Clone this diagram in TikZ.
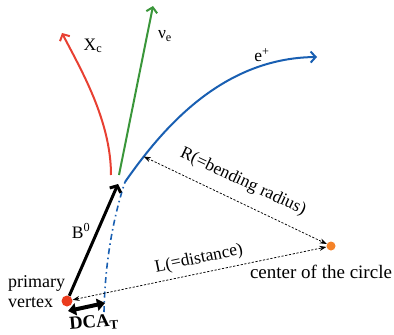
\documentclass[tikz,border=0pt]{standalone}
\usepackage{fontspec}
\setmainfont{Liberation Serif}
\usetikzlibrary{arrows.meta}
\definecolor{xred}{RGB}{232,64,50}
\definecolor{xgreen}{RGB}{58,150,58}
\definecolor{xblue}{RGB}{25,95,178}
\definecolor{xorange}{RGB}{245,130,40}
\definecolor{vred}{RGB}{235,60,30}
\begin{document}
\begin{tikzpicture}[x=1pt,y=-1pt,
  lbl/.style={inner sep=0pt, font=\fontsize{17.5}{20}\selectfont},
  biglbl/.style={inner sep=0pt, font=\fontsize{19}{21}\selectfont},
  track/.style={line width=2pt, -{Straight Barb[length=5pt,width=11pt]}},
  dimline/.style={line width=0.75pt, dash pattern=on 2.2pt off 1.6pt, {Stealth[length=7pt,width=5pt]}-{Stealth[length=7pt,width=5pt]}},
  dot/.style={circle, inner sep=0pt, minimum size=#1}]
\useasboundingbox (0,0) rectangle (394,335);
% points
\node[dot=11pt, fill=vred] (pv) at (67,301) {};
\node[dot=9pt, fill=xorange] (cc) at (331,246) {};
\coordinate (bend) at (125,182);
\coordinate (btip) at (118,184);
\coordinate (dcaL) at (68,311);
\coordinate (dcaR) at (105,303);
% tracks
\draw[track, xred] (111,175) .. controls (111,120) and (80,68) .. (62,33);
\draw[track, xgreen] (119,175) -- (153,6);
\draw[line width=1.6pt, xblue, dash pattern=on 6pt off 3.5pt on 1.5pt off 3.5pt] (104,312) .. controls (105,260) and (114,215) .. (bend);
\draw[track, xblue] (bend) .. controls (160,132) and (220,58) .. coordinate[pos=0.16] (rfoot) (317,57);
% B0
\draw[line width=3pt, -{Straight Barb[length=5pt,width=12pt]}] (pv) -- (btip);
% DCA
\draw[line width=4pt, {Triangle[length=8pt,width=12pt]}-{Triangle[length=8pt,width=12pt]}] (dcaL) -- (dcaR);
% dimension lines
\draw[dimline] (rfoot) -- (cc);
\draw[dimline] (pv) -- (cc);
% labels
\node[lbl] (lxc) at (93,46) {X\textsubscript{c}};
\node[lbl] (lnu) at (165,36) {ν\textsubscript{e}};
\node[lbl] (lep) at (262,55) {e\textsuperscript{+}};
\node[lbl] (lb0) at (81,231) {B\textsuperscript{0}};
\node[lbl, font=\fontsize{18}{20}\selectfont, anchor=west, align=left] (lpv) at (8,292) {primary\\vertex};
\node[lbl, font=\fontsize{18.5}{20}\selectfont\bfseries, rotate=5] (ldca) at (94,323) {DCA\textsubscript{T}};
\node[biglbl] (lcc) at (321,272) {center of the circle};
\node[lbl, rotate=-25.3] (lR) at (243,182) {R(=bending radius)};
\node[lbl, rotate=11.8] (lL) at (199,259) {L(=distance)};
\end{tikzpicture}
\end{document}
